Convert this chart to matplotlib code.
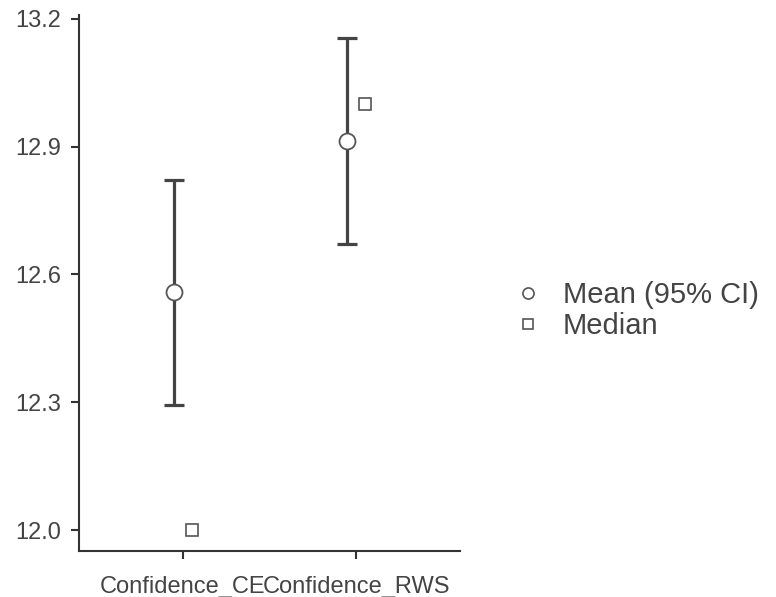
import matplotlib
matplotlib.use("Agg")
import matplotlib.pyplot as plt
from matplotlib.lines import Line2D

plt.rcParams['font.family'] = ['Liberation Sans', 'DejaVu Sans']

# Descriptive summaries for each variable
categories = ["Confidence_CE", "Confidence_RWS"]
means = [12.56, 12.912]
ci_lower = [12.294, 12.672]
ci_upper = [12.822, 13.155]
medians = [12.0, 13.0]
y_ticks = [12.0, 12.3, 12.6, 12.9, 13.2]

fig = plt.figure(figsize=(7.76, 5.97), dpi=100)
ax = fig.add_axes([0.1018, 0.077, 0.491, 0.898])

x = list(range(1, len(categories) + 1))
offset = 0.05
x_mean = [v - offset for v in x]
x_med = [v + offset for v in x]

err_lo = [m - lo for m, lo in zip(means, ci_lower)]
err_hi = [hi - m for m, hi in zip(means, ci_upper)]

ax.errorbar(x_mean, means, yerr=[err_lo, err_hi], fmt='none',
            ecolor='#444444', elinewidth=2.3, capsize=7, capthick=2.3, zorder=2)
ax.plot(x_mean, means, linestyle='none', marker='o', markersize=11.5,
        markerfacecolor='white', markeredgecolor='#555555', markeredgewidth=1.3, zorder=3)
ax.plot(x_med, medians, linestyle='none', marker='s', markersize=9,
        markerfacecolor='white', markeredgecolor='#555555', markeredgewidth=1.2, zorder=3)

ax.set_xlim(0.4, 2.6)
ax.set_ylim(11.951, 13.209)
ax.set_xticks(x)
ax.set_xticklabels(categories)
ax.set_yticks(y_ticks)
ax.set_yticklabels([f"{t:.1f}" for t in y_ticks])

for side in ('top', 'right'):
    ax.spines[side].set_visible(False)
for side in ('left', 'bottom'):
    ax.spines[side].set_color('#333333')
    ax.spines[side].set_linewidth(1.5)

ax.tick_params(axis='both', colors='#333333', labelcolor='#444444',
               labelsize=17, width=1.5, length=6, direction='out')
ax.tick_params(axis='x', pad=12)
ax.tick_params(axis='y', pad=7)

handles = [
    Line2D([], [], linestyle='none', marker='o', markersize=8,
           markerfacecolor='white', markeredgecolor='#555555', markeredgewidth=1.2),
    Line2D([], [], linestyle='none', marker='s', markersize=7,
           markerfacecolor='white', markeredgecolor='#555555', markeredgewidth=1.2),
]
fig.legend(handles, ["Mean (95% CI)", "Median"], loc='center left',
           bbox_to_anchor=(0.648, 0.48), frameon=False, fontsize=21,
           labelcolor='#444444', handletextpad=0.75, labelspacing=0.1,
           handlelength=0.9, borderaxespad=0)

fig.savefig("out.png", dpi=100)
